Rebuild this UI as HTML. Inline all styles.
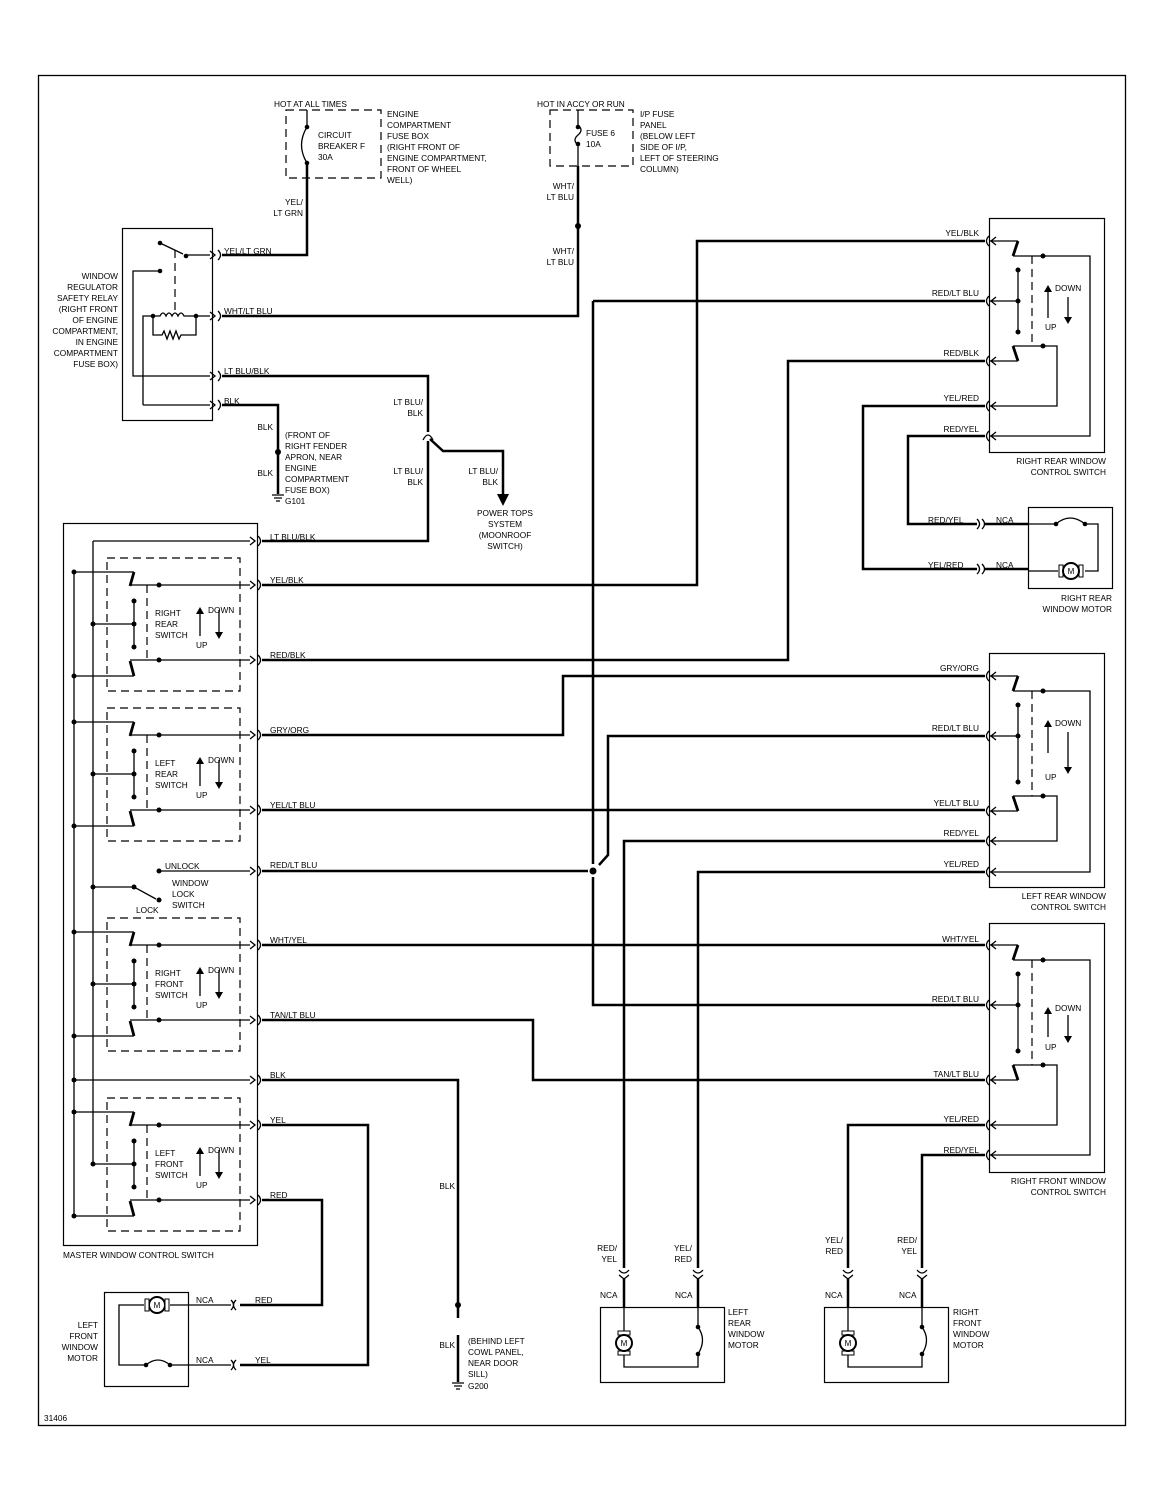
<!DOCTYPE html>
<html><head><meta charset="utf-8"><style>
html,body{margin:0;padding:0;background:#fff;}
svg{display:block;}
text{font-family:"Liberation Sans",Arial,sans-serif;font-size:8.3px;fill:#000;}
.r{text-anchor:end;}
.c{text-anchor:middle;}
.w{stroke:#000;stroke-width:2.5;fill:none;}
.t{stroke:#000;stroke-width:1.3;fill:none;}
.b{stroke:#000;stroke-width:2.8;fill:none;}
.d{stroke:#000;stroke-width:1.2;fill:none;stroke-dasharray:8,5;}
</style></head><body>
<svg width="1164" height="1502" viewBox="0 0 1164 1502" xmlns="http://www.w3.org/2000/svg">
<defs>
<g id="lc"><path class="t" d="M-12,-4 L-7,0 L-12,4"/><path class="t" d="M-4,-5 Q1,0 -4,5"/></g>
<g id="rc"><path class="t" d="M4,-5 Q-1,0 4,5"/><path class="t" d="M11,-4 L6,0 L11,4"/></g>
<g id="vc"><path class="t" d="M-5,0 Q0,6 5,0"/><path class="t" d="M-5,5 L0,9 L5,5"/></g>
<g id="mst">
<rect class="d" x="107" y="558" width="133" height="133"/>
<path class="t" d="M74,572 H134"/><path class="b" d="M134,572 L130,586"/>
<path class="t" d="M130,585 H250"/><circle cx="159" cy="585" r="2.5"/>
<circle cx="74" cy="572" r="2.5"/>
<path class="d" d="M147,585 V660"/>
<path class="t" d="M134,601 V647 M93,624 H134"/>
<circle cx="134" cy="601" r="2.5"/><circle cx="134" cy="624" r="2.5"/><circle cx="134" cy="647" r="2.5"/><circle cx="93" cy="624" r="2.5"/>
<path class="t" d="M130,660 H250"/><circle cx="159" cy="660" r="2.5"/>
<path class="b" d="M130,661 L134,676"/><path class="t" d="M74,676 H134"/><circle cx="74" cy="676" r="2.5"/>
<path class="t" d="M200,636 V612 M219,610 V632"/>
<path d="M196,614 L200,607 L204,614Z M215,632 L219,639 L223,632Z"/>
<text x="208" y="613">DOWN</text><text x="196" y="648">UP</text>
</g>
</defs>
<rect x="38.5" y="75.5" width="1087" height="1350" fill="none" stroke="#000" stroke-width="1.3"/>

<!-- top fuse boxes -->
<text x="274" y="107">HOT AT ALL TIMES</text>
<rect class="d" x="286" y="110" width="95" height="68"/>
<path class="t" d="M307,110 V127 M307,163 V178"/>
<path class="t" d="M307,127 Q296,145 307,163"/>
<circle cx="307" cy="127" r="2.3"/><circle cx="307" cy="163" r="2.3"/>
<text x="318" y="138">CIRCUIT</text><text x="318" y="149">BREAKER F</text><text x="318" y="160">30A</text>
<text x="387" y="117">ENGINE</text><text x="387" y="128">COMPARTMENT</text><text x="387" y="139">FUSE BOX</text><text x="387" y="150">(RIGHT FRONT OF</text><text x="387" y="161">ENGINE COMPARTMENT,</text><text x="387" y="172">FRONT OF WHEEL</text><text x="387" y="183">WELL)</text>
<text class="r" x="303" y="205">YEL/</text><text class="r" x="303" y="216">LT GRN</text>

<text x="537" y="107">HOT IN ACCY OR RUN</text>
<rect class="d" x="550" y="110" width="83" height="56"/>
<path class="t" d="M578,110 V125 M578,145 V166"/>
<path class="t" d="M578,125 Q584,130 578,135 Q572,140 578,145"/>
<circle cx="578" cy="127" r="2.3"/><circle cx="578" cy="144" r="2.3"/>
<text x="586" y="136">FUSE 6</text><text x="586" y="147">10A</text>
<text x="640" y="117">I/P FUSE</text><text x="640" y="128">PANEL</text><text x="640" y="139">(BELOW LEFT</text><text x="640" y="150">SIDE OF I/P,</text><text x="640" y="161">LEFT OF STEERING</text><text x="640" y="172">COLUMN)</text>
<text class="r" x="574" y="189">WHT/</text><text class="r" x="574" y="200">LT BLU</text>
<text class="r" x="574" y="254">WHT/</text><text class="r" x="574" y="265">LT BLU</text>
<circle cx="578" cy="226" r="3"/>

<!-- relay -->
<rect x="122.5" y="228.5" width="90" height="192" fill="none" stroke="#000" stroke-width="1.2"/>
<circle cx="160" cy="243" r="2.3"/><circle cx="186" cy="256" r="2.3"/>
<path class="t" d="M160,243 L183,254 M186,255 H210"/>
<circle cx="160" cy="271" r="2.3"/>
<path class="t" d="M160,271 H133 V376 H210"/>
<path class="d" d="M175,250 V312"/>
<circle cx="153" cy="316" r="2.3"/><circle cx="196" cy="316" r="2.3"/>
<path class="t" d="M143,405 V316 H160 Q163,310 166,316 Q169,310 172,316 Q175,310 178,316 Q181,310 184,316 H210"/>
<path class="t" d="M153,316 V335 H162 L164,331 L167,339 L170,331 L173,339 L176,331 L179,339 L181,335 H196 V316"/>
<path class="t" d="M143,405 H210"/>
<use href="#lc" x="222" y="255"/><use href="#lc" x="222" y="316"/><use href="#lc" x="222" y="376"/><use href="#lc" x="222" y="405"/>
<text class="r" x="118" y="279">WINDOW</text><text class="r" x="118" y="290">REGULATOR</text><text class="r" x="118" y="301">SAFETY RELAY</text><text class="r" x="118" y="312">(RIGHT FRONT</text><text class="r" x="118" y="323">OF ENGINE</text><text class="r" x="118" y="334">COMPARTMENT,</text><text class="r" x="118" y="345">IN ENGINE</text><text class="r" x="118" y="356">COMPARTMENT</text><text class="r" x="118" y="367">FUSE BOX)</text>
<text x="224" y="254">YEL/LT GRN</text><text x="224" y="314">WHT/LT BLU</text><text x="224" y="374">LT BLU/BLK</text><text x="224" y="404">BLK</text>

<path class="w" d="M222,255 H307 V163"/>
<path class="w" d="M222,316 H578 V166"/>
<path class="w" d="M222,376 H428 V432"/>
<path class="w" d="M428,441 V541 H262"/>
<path class="t" d="M423,440 Q428,430 433,440"/>
<path class="w" d="M430,439 L443,451 H503 V494"/>
<path d="M497,494 L509,494 L503,506Z"/>
<text class="r" x="423" y="405">LT BLU/</text><text class="r" x="423" y="416">BLK</text>
<text class="r" x="423" y="474">LT BLU/</text><text class="r" x="423" y="485">BLK</text>
<text class="r" x="498" y="474">LT BLU/</text><text class="r" x="498" y="485">BLK</text>
<text class="c" x="505" y="516">POWER TOPS</text><text class="c" x="505" y="527">SYSTEM</text><text class="c" x="505" y="538">(MOONROOF</text><text class="c" x="505" y="549">SWITCH)</text>

<path class="w" d="M222,405 H278 V494"/>
<circle cx="278" cy="452" r="3"/>
<path class="t" d="M272,495 H284 M274,498 H282 M276,501 H280"/>
<text class="r" x="273" y="430">BLK</text><text class="r" x="273" y="476">BLK</text>
<text x="285" y="438">(FRONT OF</text><text x="285" y="449">RIGHT FENDER</text><text x="285" y="460">APRON, NEAR</text><text x="285" y="471">ENGINE</text><text x="285" y="482">COMPARTMENT</text><text x="285" y="493">FUSE BOX)</text><text x="285" y="504">G101</text>

<!-- master switch -->
<rect x="63.5" y="523.5" width="194" height="722" fill="none" stroke="#000" stroke-width="1.2"/>
<path class="t" d="M74,572 V1214 M93,541 V1165 M93,541 H250"/>
<use href="#mst"/>
<text x="155" y="616">RIGHT</text><text x="155" y="627">REAR</text><text x="155" y="638">SWITCH</text>
<use href="#mst" y="150"/>
<text x="155" y="766">LEFT</text><text x="155" y="777">REAR</text><text x="155" y="788">SWITCH</text>
<use href="#mst" y="360"/>
<text x="155" y="976">RIGHT</text><text x="155" y="987">FRONT</text><text x="155" y="998">SWITCH</text>
<use href="#mst" y="540"/>
<text x="155" y="1156">LEFT</text><text x="155" y="1167">FRONT</text><text x="155" y="1178">SWITCH</text>
<!-- lock switch -->
<path class="t" d="M93,887 H134 L156,899"/><circle cx="93" cy="887" r="2.5"/><circle cx="134" cy="887" r="2.5"/><circle cx="159" cy="900" r="2.5"/>
<circle cx="159" cy="871" r="2.5"/><path class="t" d="M159,871 H250"/>
<text x="165" y="869">UNLOCK</text><text x="172" y="886">WINDOW</text><text x="172" y="897">LOCK</text><text x="172" y="908">SWITCH</text><text x="136" y="913">LOCK</text>
<path class="t" d="M74,1080 H250"/><circle cx="74" cy="1080" r="2.5"/>
<g>
<use href="#lc" x="262" y="541"/><use href="#lc" x="262" y="585"/><use href="#lc" x="262" y="660"/><use href="#lc" x="262" y="735"/><use href="#lc" x="262" y="810"/><use href="#lc" x="262" y="871"/><use href="#lc" x="262" y="945"/><use href="#lc" x="262" y="1020"/><use href="#lc" x="262" y="1080"/><use href="#lc" x="262" y="1125"/><use href="#lc" x="262" y="1200"/>
</g>
<text x="270" y="540">LT BLU/BLK</text><text x="270" y="583">YEL/BLK</text><text x="270" y="658">RED/BLK</text><text x="270" y="733">GRY/ORG</text><text x="270" y="808">YEL/LT BLU</text><text x="270" y="868">RED/LT BLU</text><text x="270" y="943">WHT/YEL</text><text x="270" y="1018">TAN/LT BLU</text><text x="270" y="1078">BLK</text><text x="270" y="1123">YEL</text><text x="270" y="1198">RED</text>
<text x="63" y="1258">MASTER WINDOW CONTROL SWITCH</text>

<!-- main wires -->
<path class="w" d="M262,585 H697 V241 H985"/>
<path class="w" d="M262,660 H788 V361 H985"/>
<path class="w" d="M262,735 H563 V676 H985"/>
<path class="w" d="M262,810 H985"/>
<path class="w" d="M262,871 H588"/>
<path class="w" d="M593,301 H985 M593,301 V864 M593,877 V1005 H985"/>
<circle cx="593" cy="871" r="3.5"/>
<path class="w" d="M599,865 L608,855 V736 H985"/>
<path class="w" d="M262,945 H985"/>
<path class="w" d="M262,1020 H533 V1080 H985"/>
<path class="w" d="M262,1080 H458 V1318"/>
<circle cx="458" cy="1305" r="3"/>
<path class="w" d="M458,1335 V1382"/>
<path class="t" d="M452,1383 H464 M454,1386 H462 M456,1389 H460"/>
<text class="r" x="455" y="1189">BLK</text><text class="r" x="455" y="1348">BLK</text>
<text x="468" y="1344">(BEHIND LEFT</text><text x="468" y="1355">COWL PANEL,</text><text x="468" y="1366">NEAR DOOR</text><text x="468" y="1377">SILL)</text><text x="468" y="1389">G200</text>
<path class="w" d="M262,1125 H368 V1365 H240"/>
<path class="w" d="M262,1200 H322 V1305 H240"/>

<!-- LF motor -->
<rect x="104.5" y="1292.5" width="84" height="94" fill="none" stroke="#000" stroke-width="1.2"/>
<path class="t" d="M236,1300 Q231,1305 236,1310 M231,1300 Q236,1305 231,1310"/>
<path class="t" d="M236,1360 Q231,1365 236,1370 M231,1360 Q236,1365 231,1370"/>
<path class="t" d="M231,1305 H170 M144,1305 H119 V1365 H146 M170,1365 H231"/>
<circle cx="157" cy="1305" r="8" fill="#fff" stroke="#000" stroke-width="2"/>
<rect x="145" y="1299" width="4" height="12" fill="#fff" stroke="#000"/><rect x="165" y="1299" width="4" height="12" fill="#fff" stroke="#000"/>
<text class="c" x="157" y="1308" style="font-size:8px">M</text>
<path class="t" d="M146,1365 Q158,1355 170,1365"/><circle cx="146" cy="1365" r="2.3"/><circle cx="170" cy="1365" r="2.3"/>
<text x="196" y="1303">NCA</text><text x="196" y="1363">NCA</text><text x="255" y="1303">RED</text><text x="255" y="1363">YEL</text>
<text class="r" x="98" y="1328">LEFT</text><text class="r" x="98" y="1339">FRONT</text><text class="r" x="98" y="1350">WINDOW</text><text class="r" x="98" y="1361">MOTOR</text>

<!-- right switches -->
<g>
<rect x="989.5" y="218.5" width="115" height="234" fill="none" stroke="#000" stroke-width="1.2"/>
<path class="t" d="M990,241 H1018 M1013,256 H1090 V436 H990 M990,301 H1018 M1018,270 V332 M990,361 H1018 M1013,346 H1057 V406 H990"/>
<path class="b" d="M1018,241 L1013,256 M1018,361 L1013,346"/>
<circle cx="1043" cy="256" r="2.5"/><circle cx="1043" cy="346" r="2.5"/><circle cx="1018" cy="270" r="2.5"/><circle cx="1018" cy="301" r="2.5"/><circle cx="1018" cy="332" r="2.5"/>
<path class="d" d="M1032,256 V346"/>
<path class="t" d="M1048,318 V290 M1068,297 V318"/><path d="M1044,292 L1048,285 L1052,292Z M1064,317 L1068,324 L1072,317Z"/>
<text x="1055" y="291">DOWN</text><text x="1045" y="330">UP</text>
<use href="#rc" x="985" y="241"/><use href="#rc" x="985" y="301"/><use href="#rc" x="985" y="361"/><use href="#rc" x="985" y="406"/><use href="#rc" x="985" y="436"/>
<text class="r" x="979" y="236">YEL/BLK</text><text class="r" x="979" y="296">RED/LT BLU</text><text class="r" x="979" y="356">RED/BLK</text><text class="r" x="979" y="401">YEL/RED</text><text class="r" x="979" y="432">RED/YEL</text>
<text class="r" x="1106" y="464">RIGHT REAR WINDOW</text><text class="r" x="1106" y="475">CONTROL SWITCH</text>
</g>
<g>
<rect x="989.5" y="653.5" width="115" height="234" fill="none" stroke="#000" stroke-width="1.2"/>
<path class="t" d="M990,676 H1018 M1013,691 H1090 V872 H990 M990,736 H1018 M1018,705 V782 M990,811 H1018 M1013,796 H1057 V841 H990"/>
<path class="b" d="M1018,676 L1013,691 M1018,811 L1013,796"/>
<circle cx="1043" cy="691" r="2.5"/><circle cx="1043" cy="796" r="2.5"/><circle cx="1018" cy="705" r="2.5"/><circle cx="1018" cy="736" r="2.5"/><circle cx="1018" cy="782" r="2.5"/>
<path class="d" d="M1032,691 V796"/>
<path class="t" d="M1048,753 V725 M1068,732 V768"/><path d="M1044,727 L1048,720 L1052,727Z M1064,767 L1068,774 L1072,767Z"/>
<text x="1055" y="726">DOWN</text><text x="1045" y="780">UP</text>
<use href="#rc" x="985" y="676"/><use href="#rc" x="985" y="736"/><use href="#rc" x="985" y="811"/><use href="#rc" x="985" y="841"/><use href="#rc" x="985" y="872"/>
<text class="r" x="979" y="671">GRY/ORG</text><text class="r" x="979" y="731">RED/LT BLU</text><text class="r" x="979" y="806">YEL/LT BLU</text><text class="r" x="979" y="836">RED/YEL</text><text class="r" x="979" y="867">YEL/RED</text>
<text class="r" x="1106" y="899">LEFT REAR WINDOW</text><text class="r" x="1106" y="910">CONTROL SWITCH</text>
</g>
<g>
<rect x="989.5" y="923.5" width="115" height="249" fill="none" stroke="#000" stroke-width="1.2"/>
<path class="t" d="M990,945 H1018 M1013,960 H1090 V1155 H990 M990,1005 H1018 M1018,974 V1051 M990,1080 H1018 M1013,1065 H1057 V1125 H990"/>
<path class="b" d="M1018,945 L1013,960 M1018,1080 L1013,1065"/>
<circle cx="1043" cy="960" r="2.5"/><circle cx="1043" cy="1065" r="2.5"/><circle cx="1018" cy="974" r="2.5"/><circle cx="1018" cy="1005" r="2.5"/><circle cx="1018" cy="1051" r="2.5"/>
<path class="d" d="M1032,960 V1065"/>
<path class="t" d="M1048,1037 V1012 M1068,1015 V1037"/><path d="M1044,1014 L1048,1007 L1052,1014Z M1064,1036 L1068,1043 L1072,1036Z"/>
<text x="1055" y="1011">DOWN</text><text x="1045" y="1050">UP</text>
<use href="#rc" x="985" y="945"/><use href="#rc" x="985" y="1005"/><use href="#rc" x="985" y="1080"/><use href="#rc" x="985" y="1125"/><use href="#rc" x="985" y="1155"/>
<text class="r" x="979" y="942">WHT/YEL</text><text class="r" x="979" y="1002">RED/LT BLU</text><text class="r" x="979" y="1077">TAN/LT BLU</text><text class="r" x="979" y="1122">YEL/RED</text><text class="r" x="979" y="1153">RED/YEL</text>
<text class="r" x="1106" y="1184">RIGHT FRONT WINDOW</text><text class="r" x="1106" y="1195">CONTROL SWITCH</text>
</g>

<!-- RR motor -->
<path class="w" d="M985,406 H863 V569 H977"/>
<path class="w" d="M985,436 H908 V524 H977"/>
<path class="t" d="M977,519 Q982,524 977,529 M982,519 Q987,524 982,529 M977,564 Q982,569 977,574 M982,564 Q987,569 982,574"/>
<path class="w" d="M985,524 H1028 M985,569 H1028"/>
<rect x="1028.5" y="507.5" width="84" height="81" fill="none" stroke="#000" stroke-width="1.2"/>
<path class="t" d="M1028,524 H1056 M1085,524 H1098 V571 H1085 M1058,571 H1028"/>
<path class="t" d="M1056,524 Q1070,512 1085,524"/><circle cx="1056" cy="524" r="2.3"/><circle cx="1085" cy="524" r="2.3"/>
<rect x="1059" y="565" width="4" height="12" fill="#fff" stroke="#000"/><rect x="1079" y="565" width="4" height="12" fill="#fff" stroke="#000"/>
<circle cx="1071" cy="571" r="8" fill="#fff" stroke="#000" stroke-width="2"/><text class="c" x="1071" y="574" style="font-size:8px">M</text>
<text x="928" y="523">RED/YEL</text><text x="928" y="568">YEL/RED</text><text x="996" y="523">NCA</text><text x="996" y="568">NCA</text>
<text class="r" x="1112" y="601">RIGHT REAR</text><text class="r" x="1112" y="612">WINDOW MOTOR</text>

<!-- LR / RF motors -->
<path class="w" d="M985,841 H624 V1268 M985,872 H698 V1268"/>
<path class="w" d="M985,1125 H848 V1268 M985,1155 H922 V1268"/>
<use href="#vc" x="624" y="1270"/><use href="#vc" x="698" y="1270"/><use href="#vc" x="848" y="1270"/><use href="#vc" x="922" y="1270"/>
<path class="w" d="M624,1279 V1307 M698,1279 V1307 M848,1279 V1307 M922,1279 V1307"/>
<g>
<rect x="600.5" y="1307.5" width="124" height="75" fill="none" stroke="#000" stroke-width="1.2"/>
<path class="t" d="M624,1307 V1331 M624,1355 V1367 H698 V1354 M698,1327 V1307 M698,1327 Q707,1340 698,1354"/>
<circle cx="698" cy="1327" r="2.3"/><circle cx="698" cy="1354" r="2.3"/>
<rect x="618" y="1331" width="12" height="4" fill="#fff" stroke="#000"/><rect x="618" y="1351" width="12" height="4" fill="#fff" stroke="#000"/>
<circle cx="624" cy="1343" r="8" fill="#fff" stroke="#000" stroke-width="2"/><text class="c" x="624" y="1346" style="font-size:8px">M</text>
</g>
<g transform="translate(224,0)">
<rect x="600.5" y="1307.5" width="124" height="75" fill="none" stroke="#000" stroke-width="1.2"/>
<path class="t" d="M624,1307 V1331 M624,1355 V1367 H698 V1354 M698,1327 V1307 M698,1327 Q707,1340 698,1354"/>
<circle cx="698" cy="1327" r="2.3"/><circle cx="698" cy="1354" r="2.3"/>
<rect x="618" y="1331" width="12" height="4" fill="#fff" stroke="#000"/><rect x="618" y="1351" width="12" height="4" fill="#fff" stroke="#000"/>
<circle cx="624" cy="1343" r="8" fill="#fff" stroke="#000" stroke-width="2"/><text class="c" x="624" y="1346" style="font-size:8px">M</text>
</g>
<text class="r" x="617" y="1251">RED/</text><text class="r" x="617" y="1262">YEL</text><text class="r" x="692" y="1251">YEL/</text><text class="r" x="692" y="1262">RED</text>
<text x="600" y="1298">NCA</text><text x="675" y="1298">NCA</text>
<text x="728" y="1315">LEFT</text><text x="728" y="1326">REAR</text><text x="728" y="1337">WINDOW</text><text x="728" y="1348">MOTOR</text>
<text class="r" x="843" y="1243">YEL/</text><text class="r" x="843" y="1254">RED</text><text class="r" x="917" y="1243">RED/</text><text class="r" x="917" y="1254">YEL</text>
<text x="825" y="1298">NCA</text><text x="899" y="1298">NCA</text>
<text x="953" y="1315">RIGHT</text><text x="953" y="1326">FRONT</text><text x="953" y="1337">WINDOW</text><text x="953" y="1348">MOTOR</text>

<text x="44" y="1421">31406</text>
</svg>
</body></html>
